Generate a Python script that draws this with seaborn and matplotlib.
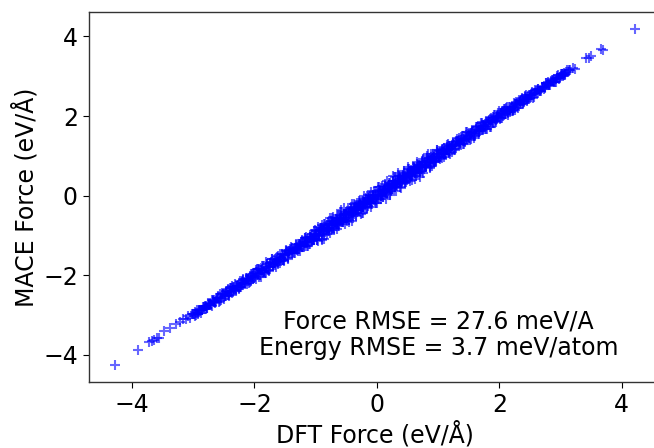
import matplotlib
matplotlib.use("Agg")
import matplotlib.pyplot as plt
import seaborn as sns
import pandas as pd

# Hand-read DFT / MACE force components (eV/Å)
dft_tails = [-4.28, -3.90, -3.72, -3.68, -3.64, -3.60, -3.56, -3.48, -3.38,
             -3.28, -3.22, -3.17, -3.12, -3.08, -3.05, -3.02,
             3.20, 3.23, 3.41, 3.47, 3.49, 3.66, 3.70, 4.22]
mace_tails = [-4.26, -3.87, -3.68, -3.66, -3.63, -3.57, -3.58, -3.39, -3.33,
              -3.22, -3.17, -3.10, -3.09, -3.03, -3.07, -2.96,
              3.21, 3.19, 3.47, 3.47, 3.52, 3.68, 3.66, 4.19]

dft_low = [-3.00, -2.98, -2.96, -2.94, -2.92, -2.90, -2.88, -2.86, -2.84, -2.82,
           -2.80, -2.78, -2.76, -2.74, -2.72, -2.70, -2.68, -2.66, -2.64, -2.62,
           -2.60, -2.58, -2.56, -2.54, -2.52, -2.50, -2.48, -2.46, -2.44, -2.42,
           -2.40, -2.38, -2.36, -2.34, -2.32, -2.30, -2.28, -2.26, -2.24, -2.22,
           -2.20, -2.18, -2.16, -2.14, -2.12, -2.10, -2.08, -2.06, -2.04, -2.02]
mace_low = [-2.97, -3.03, -2.95, -2.88, -2.94, -2.86, -2.94, -2.86, -2.79, -2.85,
            -2.78, -2.82, -2.70, -2.75, -2.69, -2.76, -2.64, -2.66, -2.67, -2.57,
            -2.56, -2.66, -2.47, -2.56, -2.46, -2.60, -2.47, -2.39, -2.49, -2.51,
            -2.32, -2.39, -2.45, -2.29, -2.22, -2.36, -2.28, -2.30, -2.15, -2.29,
            -2.23, -2.10, -2.22, -2.09, -2.22, -2.08, -2.02, -2.14, -2.01, -2.02]

dft_mid_neg = [-2.00, -1.98, -1.96, -1.94, -1.92, -1.90, -1.88, -1.86, -1.84, -1.82,
               -1.80, -1.78, -1.76, -1.74, -1.72, -1.70, -1.68, -1.66, -1.64, -1.62,
               -1.60, -1.58, -1.56, -1.54, -1.52, -1.50, -1.48, -1.46, -1.44, -1.42,
               -1.40, -1.38, -1.36, -1.34, -1.32, -1.30, -1.28, -1.26, -1.24, -1.22,
               -1.20, -1.18, -1.16, -1.14, -1.12, -1.10, -1.08, -1.06, -1.04, -1.02]
mace_mid_neg = [-1.95, -2.08, -1.84, -1.97, -1.84, -2.03, -1.86, -1.76, -1.90, -1.93,
                -1.71, -1.80, -1.88, -1.69, -1.59, -1.77, -1.68, -1.70, -1.53, -1.71,
                -1.63, -1.47, -1.64, -1.48, -1.65, -1.48, -1.40, -1.56, -1.40, -1.43,
                -1.28, -1.43, -1.35, -1.45, -1.23, -1.36, -1.22, -1.39, -1.21, -1.15,
                -1.16, -1.27, -1.04, -1.16, -1.05, -1.22, -1.07, -0.96, -1.09, -1.12]

dft_core = [-1.00, -0.98, -0.96, -0.94, -0.92, -0.90, -0.88, -0.86, -0.84, -0.82,
            -0.80, -0.78, -0.76, -0.74, -0.72, -0.70, -0.68, -0.66, -0.64, -0.62,
            -0.60, -0.58, -0.56, -0.54, -0.52, -0.50, -0.48, -0.46, -0.44, -0.42,
            -0.40, -0.38, -0.36, -0.34, -0.32, -0.30, -0.28, -0.26, -0.24, -0.22,
            -0.20, -0.18, -0.16, -0.14, -0.12, -0.10, -0.08, -0.06, -0.04, -0.02,
            0.00, 0.02, 0.04, 0.06, 0.08, 0.10, 0.12, 0.14, 0.16, 0.18,
            0.20, 0.22, 0.24, 0.26, 0.28, 0.30, 0.32, 0.34, 0.36, 0.38,
            0.40, 0.42, 0.44, 0.46, 0.48, 0.50, 0.52, 0.54, 0.56, 0.58,
            0.60, 0.62, 0.64, 0.66, 0.68, 0.70, 0.72, 0.74, 0.76, 0.78,
            0.80, 0.82, 0.84, 0.86, 0.88, 0.90, 0.92, 0.94, 0.96, 0.98, 1.00]
mace_core = [-0.95, -1.10, -0.79, -0.97, -0.82, -1.08, -0.86, -0.72, -0.92, -0.97,
             -0.68, -0.80, -0.93, -0.67, -0.53, -0.80, -0.68, -0.72, -0.49, -0.75,
             -0.64, -0.42, -0.67, -0.45, -0.71, -0.47, -0.37, -0.60, -0.38, -0.43,
             -0.22, -0.45, -0.35, -0.50, -0.19, -0.39, -0.20, -0.46, -0.20, -0.12,
             -0.29, -0.05, -0.32, -0.10, -0.14, 0.09, -0.20, 0.01, -0.09, 0.13,
             -0.18, 0.03, 0.15, -0.01, 0.24, -0.04, 0.17, 0.11, 0.36, 0.08,
             0.28, 0.07, 0.27, 0.38, 0.22, 0.47, 0.13, 0.34, 0.50, 0.34,
             0.29, 0.48, 0.62, 0.33, 0.50, 0.42, 0.67, 0.37, 0.65, 0.59,
             0.70, 0.58, 0.50, 0.85, 0.59, 0.75, 0.71, 0.87, 0.58, 0.85,
             0.74, 0.96, 0.84, 0.74, 1.05, 0.74, 1.01, 0.97, 0.86, 1.09, 1.04]

dft_core2 = [-0.99, -0.95, -0.91, -0.87, -0.83, -0.79, -0.75, -0.71, -0.67, -0.63,
             -0.59, -0.55, -0.51, -0.47, -0.43, -0.39, -0.35, -0.31, -0.27, -0.23,
             -0.19, -0.15, -0.11, -0.07, -0.03, 0.01, 0.05, 0.09, 0.13, 0.17,
             0.21, 0.25, 0.29, 0.33, 0.37, 0.41, 0.45, 0.49, 0.53, 0.57,
             0.61, 0.65, 0.69, 0.73, 0.77, 0.81, 0.85, 0.89, 0.93, 0.97]
mace_core2 = [-0.96, -1.02, -0.82, -0.88, -0.77, -0.89, -0.73, -0.63, -0.71, -0.71,
              -0.52, -0.55, -0.60, -0.43, -0.33, -0.44, -0.34, -0.34, -0.19, -0.29,
              -0.21, -0.06, -0.17, -0.02, -0.13, 0.03, 0.11, 0.01, 0.16, 0.17,
              0.31, 0.21, 0.30, 0.24, 0.44, 0.36, 0.50, 0.39, 0.55, 0.63,
              0.65, 0.57, 0.78, 0.71, 0.83, 0.72, 0.86, 0.97, 0.89, 0.90]

dft_core3 = [-1.18, -1.14, -1.10, -1.06, -1.02, -0.98, -0.94, -0.90, -0.86, -0.82,
             -0.78, -0.74, -0.70, -0.66, -0.62, -0.58, -0.54, -0.50, -0.46, -0.42,
             -0.38, -0.34, -0.30, -0.26, -0.22, -0.18, -0.14, -0.10, -0.06, -0.02,
             0.02, 0.06, 0.10, 0.14, 0.18, 0.22, 0.26, 0.30, 0.34, 0.38,
             0.42, 0.46, 0.50, 0.54, 0.58, 0.62, 0.66, 0.70, 0.74, 0.78,
             0.82, 0.86, 0.90, 0.94, 0.98, 1.02, 1.06, 1.10, 1.14, 1.18]
mace_core3 = [-1.06, -1.27, -1.04, -1.14, -0.89, -1.11, -0.94, -0.73, -1.08, -0.73,
              -0.82, -0.55, -0.86, -0.55, -0.72, -0.35, -0.60, -0.47, -0.66, -0.29,
              -0.31, -0.48, -0.12, -0.27, -0.43, -0.08, 0.02, -0.19, -0.02, -0.19,
              0.22, 0.01, -0.02, 0.29, 0.19, 0.03, 0.38, 0.23, 0.56, 0.23,
              0.50, 0.35, 0.67, 0.51, 0.40, 0.67, 0.80, 0.48, 0.84, 0.76,
              1.01, 0.73, 0.92, 0.85, 1.14, 0.96, 1.17, 0.97, 1.20, 1.08]

dft_fill = [-2.97, -2.93, -2.89, -2.85, -2.81, -2.77, -2.73, -2.69, -2.65, -2.61,
            -2.57, -2.53, -2.49, -2.45, -2.41, -2.37, -2.33, -2.29, -2.25, -2.21,
            -2.17, -2.13, -2.09, -2.05, -2.01,
            -1.97, -1.93, -1.89, -1.85, -1.81, -1.77, -1.73, -1.69, -1.65, -1.61,
            -1.57, -1.53, -1.49, -1.45, -1.41, -1.37, -1.33, -1.29, -1.25, -1.21,
            -1.17, -1.13, -1.09, -1.05, -1.01,
            -0.97, -0.93, -0.89, -0.85, -0.81, -0.77, -0.73, -0.69, -0.65, -0.61,
            -0.57, -0.53, -0.49, -0.45, -0.41, -0.37, -0.33, -0.29, -0.25, -0.21,
            -0.17, -0.13, -0.09, -0.05, -0.01, 0.03, 0.07, 0.11, 0.15, 0.19,
            0.23, 0.27, 0.31, 0.35, 0.39, 0.43, 0.47, 0.51, 0.55, 0.59,
            0.63, 0.67, 0.71, 0.75, 0.79, 0.83, 0.87, 0.91, 0.95, 0.99,
            1.03, 1.07, 1.11, 1.15, 1.19, 1.23, 1.27, 1.31, 1.35, 1.39,
            1.43, 1.47, 1.51, 1.55, 1.59, 1.63, 1.67, 1.71, 1.75, 1.79,
            1.83, 1.87, 1.91, 1.95, 1.99,
            2.03, 2.07, 2.11, 2.15, 2.19, 2.23, 2.27, 2.31, 2.35, 2.39,
            2.43, 2.47, 2.51, 2.55, 2.59,
            2.63, 2.67, 2.71, 2.75, 2.79, 2.83, 2.87, 2.91, 2.95, 2.99, 3.03, 3.07]
mace_fill = [-2.93, -2.98, -2.87, -2.87, -2.76, -2.81, -2.72, -2.63, -2.70, -2.58,
             -2.64, -2.45, -2.51, -2.40, -2.50, -2.27, -2.37, -2.27, -2.33, -2.14,
             -2.18, -2.09, -2.19, -1.96, -2.06,
             -1.86, -2.05, -1.86, -1.91, -1.67, -1.87, -1.66, -1.71, -1.78, -1.52,
             -1.56, -1.61, -1.37, -1.59, -1.36, -1.41, -1.20, -1.40, -1.23, -1.28,
             -1.07, -1.26, -1.03, -1.08, -0.87,
             -1.14, -0.85, -1.10, -0.70, -0.87, -0.57, -0.85, -0.66, -0.84, -0.49,
             -0.66, -0.31, -0.64, -0.40, -0.63, -0.20, -0.36, -0.19, -0.43, 0.00,
             -0.28, -0.06, -0.29, 0.09, -0.08, 0.22, -0.09, 0.13, -0.07, 0.31,
             0.13, 0.49, 0.26, 0.51, 0.20, 0.52, 0.34, 0.71, 0.53, 0.72,
             0.42, 0.73, 0.56, 0.93, 0.71, 1.04, 0.69, 0.95, 0.84, 1.14,
             0.91, 1.16, 1.06, 1.28, 1.05, 1.25, 1.18, 1.42, 1.33, 1.46,
             1.31, 1.61, 1.45, 1.59, 1.46, 1.73, 1.59, 1.83, 1.74, 1.68,
             1.91, 1.73, 1.96, 1.91, 2.12,
             1.94, 2.12, 2.21, 2.09, 2.21, 2.13, 2.35, 2.28, 2.41, 2.31,
             2.52, 2.42, 2.52, 2.46, 2.66,
             2.67, 2.62, 2.73, 2.72, 2.85, 2.79, 2.88, 2.85, 3.00, 2.97, 3.06, 3.03]

dft_fill2 = [-2.99, -2.95, -2.91, -2.87, -2.83, -2.79, -2.75, -2.71, -2.67, -2.63,
             -2.59, -2.55, -2.51, -2.47, -2.43, -2.39, -2.35, -2.31, -2.27, -2.23,
             -2.19, -2.15, -2.11, -2.07, -2.03, -1.99, -1.95, -1.91, -1.87, -1.83,
             -1.79, -1.75, -1.71, -1.67, -1.63, -1.59, -1.55, -1.51, -1.47, -1.43,
             -1.39, -1.35, -1.31, -1.27, -1.23, -1.19, -1.15, -1.11, -1.07, -1.03,
             -0.99, -0.95, -0.91, -0.87, -0.83, -0.79, -0.75, -0.71, -0.67, -0.63,
             -0.59, -0.55, -0.51, -0.47, -0.43, -0.39, -0.35, -0.31, -0.27, -0.23,
             -0.19, -0.15, -0.11, -0.07, -0.03, 0.01, 0.05, 0.09, 0.13, 0.17,
             0.21, 0.25, 0.29, 0.33, 0.37, 0.41, 0.45, 0.49, 0.53, 0.57,
             0.61, 0.65, 0.69, 0.73, 0.77, 0.81, 0.85, 0.89, 0.93, 0.97,
             1.01, 1.05, 1.09, 1.13, 1.17, 1.21, 1.25, 1.29, 1.33, 1.37,
             1.41, 1.45, 1.49, 1.53, 1.57, 1.61, 1.65, 1.69, 1.73, 1.77,
             1.81, 1.85, 1.89, 1.93, 1.97, 2.01, 2.05, 2.09, 2.13, 2.17,
             2.21, 2.25, 2.29, 2.33, 2.37, 2.41, 2.45, 2.49, 2.53, 2.57,
             2.61, 2.65, 2.69, 2.73, 2.77, 2.81, 2.85, 2.89, 2.93, 2.97,
             3.01, 3.05, 3.09]
mace_fill2 = [-2.97, -2.99, -2.86, -2.88, -2.80, -2.84, -2.74, -2.74, -2.63, -2.65,
              -2.53, -2.63, -2.48, -2.52, -2.34, -2.41, -2.30, -2.40, -2.26, -2.29,
              -2.11, -2.19, -2.08, -2.16, -1.97, -2.01, -1.85, -1.98, -1.83, -1.94,
              -1.72, -1.78, -1.60, -1.75, -1.61, -1.64, -1.46, -1.61, -1.42, -1.45,
              -1.31, -1.44, -1.30, -1.33, -1.11, -1.23, -1.09, -1.22, -1.04, -1.10,
              -0.89, -0.98, -0.85, -0.99, -0.81, -0.86, -0.63, -0.72, -0.59, -0.73,
              -0.55, -0.60, -0.40, -0.55, -0.42, -0.51, -0.28, -0.34, -0.17, -0.29,
              -0.16, -0.26, 0.01, -0.09, 0.02, -0.08, 0.13, 0.05, 0.24, 0.05,
              0.23, 0.18, 0.38, 0.32, 0.42, 0.31, 0.57, 0.44, 0.56, 0.49,
              0.71, 0.62, 0.75, 0.62, 0.78, 0.75, 0.94, 0.80, 0.97, 0.95,
              1.12, 0.98, 1.12, 1.03, 1.24, 1.19, 1.35, 1.24, 1.37, 1.28,
              1.49, 1.42, 1.50, 1.42, 1.63, 1.57, 1.76, 1.62, 1.75, 1.67,
              1.86, 1.84, 1.98, 1.87, 2.00, 1.93, 2.12, 2.06, 2.22, 2.11,
              2.23, 2.16, 2.34, 2.31, 2.45, 2.36, 2.48, 2.42, 2.59, 2.56,
              2.65, 2.62, 2.71, 2.68, 2.82, 2.79, 2.88, 2.85, 2.94, 2.94,
              3.05, 3.03, 3.12]

dft_fill3 = [-2.46, -2.42, -2.38, -2.34, -2.30, -2.26, -2.22, -2.18, -2.14, -2.10,
             -2.06, -2.02, -1.98, -1.94, -1.90, -1.86, -1.82, -1.78, -1.74, -1.70,
             -1.66, -1.62, -1.58, -1.54, -1.50, -1.46, -1.42, -1.38, -1.34, -1.30,
             -1.26, -1.22, -1.18, -1.14, -1.10, -1.06, -1.02, -0.98, -0.94, -0.90,
             -0.86, -0.82, -0.78, -0.74, -0.70, -0.66, -0.62, -0.58, -0.54, -0.50,
             -0.46, -0.42, -0.38, -0.34, -0.30, -0.26, -0.22, -0.18, -0.14, -0.10,
             -0.06, -0.02, 0.02, 0.06, 0.10, 0.14, 0.18, 0.22, 0.26, 0.30,
             0.34, 0.38, 0.42, 0.46, 0.50, 0.54, 0.58, 0.62, 0.66, 0.70,
             0.74, 0.78, 0.82, 0.86, 0.90, 0.94, 0.98, 1.02, 1.06, 1.10,
             1.14, 1.18, 1.22, 1.26, 1.30, 1.34, 1.38, 1.42, 1.46, 1.50,
             1.54, 1.58, 1.62, 1.66, 1.70, 1.74, 1.78, 1.82, 1.86, 1.90,
             1.94, 1.98, 2.02, 2.06, 2.10, 2.14, 2.18, 2.22, 2.26, 2.30,
             2.34, 2.38, 2.42, 2.46, 2.50]
mace_fill3 = [-2.41, -2.45, -2.31, -2.40, -2.28, -2.34, -2.18, -2.19, -2.06, -2.15,
              -2.03, -2.09, -1.92, -1.96, -1.82, -1.92, -1.81, -1.86, -1.69, -1.73,
              -1.59, -1.67, -1.56, -1.62, -1.46, -1.47, -1.34, -1.44, -1.31, -1.34,
              -1.20, -1.30, -1.17, -1.17, -1.03, -1.12, -0.98, -1.00, -0.86, -0.97,
              -0.84, -0.87, -0.72, -0.82, -0.67, -0.67, -0.55, -0.62, -0.49, -0.57,
              -0.45, -0.48, -0.30, -0.36, -0.26, -0.34, -0.16, -0.21, -0.12, -0.16,
              0.02, -0.03, 0.07, -0.01, 0.13, 0.10, 0.25, 0.20, 0.27, 0.22,
              0.40, 0.33, 0.46, 0.45, 0.58, 0.48, 0.60, 0.59, 0.71, 0.62,
              0.77, 0.73, 0.89, 0.84, 0.91, 0.87, 1.04, 0.98, 1.08, 1.04,
              1.22, 1.17, 1.26, 1.18, 1.35, 1.31, 1.39, 1.37, 1.53, 1.48,
              1.57, 1.51, 1.68, 1.62, 1.72, 1.68, 1.86, 1.80, 1.90, 1.82,
              1.99, 1.97, 2.05, 2.01, 2.17, 2.11, 2.19, 2.16, 2.31, 2.28,
              2.37, 2.33, 2.48, 2.43, 2.52]

dft_mid_pos = [1.02, 1.04, 1.06, 1.08, 1.10, 1.12, 1.14, 1.16, 1.18, 1.20,
               1.22, 1.24, 1.26, 1.28, 1.30, 1.32, 1.34, 1.36, 1.38, 1.40,
               1.42, 1.44, 1.46, 1.48, 1.50, 1.52, 1.54, 1.56, 1.58, 1.60,
               1.62, 1.64, 1.66, 1.68, 1.70, 1.72, 1.74, 1.76, 1.78, 1.80,
               1.82, 1.84, 1.86, 1.88, 1.90, 1.92, 1.94, 1.96, 1.98, 2.00]
mace_mid_pos = [0.98, 1.13, 0.94, 1.11, 1.21, 1.05, 1.14, 1.29, 1.09, 1.25,
                1.11, 1.30, 1.28, 1.15, 1.38, 1.29, 1.46, 1.30, 1.48, 1.30,
                1.43, 1.36, 1.59, 1.43, 1.57, 1.40, 1.58, 1.65, 1.56, 1.51,
                1.73, 1.63, 1.56, 1.74, 1.83, 1.65, 1.77, 1.72, 1.87, 1.67,
                1.87, 1.73, 1.94, 1.88, 1.84, 2.04, 1.86, 1.98, 2.08, 1.97]

dft_high = [2.02, 2.04, 2.06, 2.08, 2.10, 2.12, 2.14, 2.16, 2.18, 2.20,
            2.22, 2.24, 2.26, 2.28, 2.30, 2.32, 2.34, 2.36, 2.38, 2.40,
            2.42, 2.44, 2.46, 2.48, 2.50, 2.52, 2.54, 2.56, 2.58, 2.60,
            2.62, 2.64, 2.66, 2.68, 2.70, 2.72, 2.74, 2.76, 2.78, 2.80,
            2.82, 2.84, 2.86, 2.88, 2.90, 2.92, 2.94, 2.96, 2.98, 3.00,
            3.02, 3.04, 3.06, 3.08, 3.10, 3.12, 3.14, 3.16]
mace_high = [2.08, 1.96, 2.08, 2.17, 2.06, 2.12, 2.04, 2.23, 2.16, 2.24,
             2.15, 2.34, 2.21, 2.31, 2.21, 2.40, 2.35, 2.30, 2.43, 2.37,
             2.51, 2.43, 2.38, 2.54, 2.46, 2.54, 2.61, 2.47, 2.58, 2.64,
             2.59, 2.69, 2.66, 2.62, 2.74, 2.74, 2.70, 2.82, 2.77, 2.83,
             2.77, 2.85, 2.91, 2.86, 2.94, 2.86, 2.96, 3.02, 2.95, 3.00,
             3.06, 3.00, 3.09, 3.07, 3.15, 3.10, 3.16, 3.17]

x_ticks = [-4, -2, 0, 2, 4]
y_ticks = [-4, -2, 0, 2, 4]
annotation = "Force RMSE = 27.6 meV/A\nEnergy RMSE = 3.7 meV/atom"

dft_all = (dft_tails + dft_low + dft_mid_neg + dft_core + dft_core2 + dft_core3
           + dft_fill + dft_fill2 + dft_fill3 + dft_mid_pos + dft_high)
mace_all = (mace_tails + mace_low + mace_mid_neg + mace_core + mace_core2 + mace_core3
            + mace_fill + mace_fill2 + mace_fill3 + mace_mid_pos + mace_high)
df = pd.DataFrame({"DFT": dft_all, "MACE": mace_all})

sns.set_style("white", rc={"text.color": "black", "axes.labelcolor": "black",
                           "xtick.color": "black", "ytick.color": "black",
                           "axes.edgecolor": "#333333"})
plt.rcParams["font.family"] = ["DejaVu Sans"]

fig = plt.figure(figsize=(6.54, 4.48), dpi=100)
ax = fig.add_axes([0.136, 0.147, 0.875, 0.826])
sns.scatterplot(data=df, x="DFT", y="MACE", marker="+", color="blue",
                alpha=0.6, s=60, linewidth=1.5, ax=ax)

ax.set_xticks(x_ticks)
ax.set_yticks(y_ticks)
ax.tick_params(axis="both", labelsize=17, direction="out", length=4.5,
               width=0.8, color="black", bottom=True, left=True)
ax.set_xlabel("DFT Force (eV/Å)", fontsize=17, labelpad=3)
ax.set_ylabel("MACE Force (eV/Å)", fontsize=17, labelpad=3)
for sp in ax.spines.values():
    sp.set_color("#333333")
    sp.set_linewidth(1.0)
ax.text(1.01, -3.49, annotation, ha="center", va="center",
        multialignment="center", fontsize=17, linespacing=1.1, color="black")
ax.margins(0.05)

fig.savefig("out.png", dpi=100)
